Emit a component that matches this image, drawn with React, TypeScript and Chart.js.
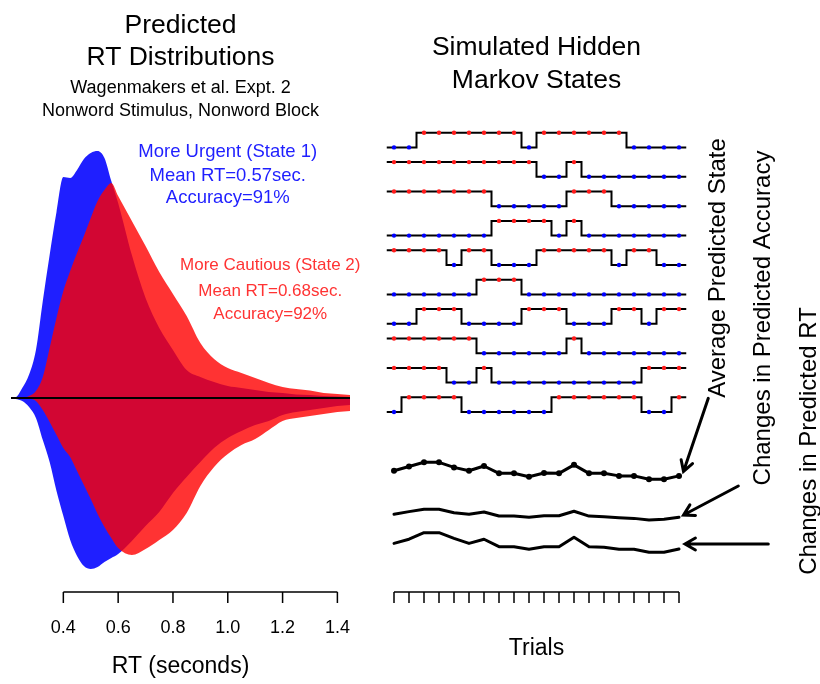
import React, { useEffect, useRef } from "react";
import Chart from "chart.js/auto";

const FONT = "'Liberation Sans', Arial, Helvetica, sans-serif";
const BLUE_FILL = "rgba(0,0,255,0.88)";
const RED_FILL = "rgba(255,0,0,0.8)";
const BLUE_TEXT = "rgb(31,31,255)";
const RED_TEXT = "rgb(255,51,51)";

// ---------------- Left panel: predicted RT densities ----------------
const RT_GRID = [
  0.2, 0.225, 0.25, 0.275, 0.3, 0.325, 0.35, 0.375, 0.4, 0.425, 0.45, 0.475, 0.5, 0.525, 0.55, 0.575, 0.6,
  0.65, 0.7, 0.75, 0.8, 0.85, 0.9, 0.95, 1.0, 1.05, 1.1, 1.15, 1.2, 1.25, 1.3, 1.35, 1.4, 1.45,
];
// upper half (drawn above the zero line)
const UPPER_STATE1 = [
  0, 0.01, 0.2, 0.47, 0.96, 1.94, 2.86, 3.72, 4.42, 4.4, 4.56, 4.78, 4.9, 4.94, 4.8, 4.34, 3.9,
  2.86, 2.0, 1.4, 0.96, 0.56, 0.42, 0.32, 0.24, 0.2, 0.16, 0.12, 0.1, 0.07, 0.06, 0.04, 0.03, 0.02,
];
const UPPER_STATE2 = [
  0, 0, 0, 0.04, 0.14, 0.42, 1.0, 1.6, 2.14, 2.54, 2.9, 3.24, 3.6, 3.94, 4.16, 4.3, 4.04,
  3.54, 3.04, 2.52, 2.08, 1.64, 1.1, 0.78, 0.6, 0.5, 0.4, 0.3, 0.22, 0.18, 0.15, 0.1, 0.08, 0.06,
];
// lower half (mirrored below the zero line)
const LOWER_STATE1 = [
  0, -0.02, -0.06, -0.18, -0.4, -0.84, -1.28, -1.86, -2.36, -2.84, -3.16, -3.36, -3.42, -3.38, -3.28, -3.2, -3.12,
  -2.86, -2.56, -2.28, -1.9, -1.58, -1.28, -1.0, -0.8, -0.66, -0.54, -0.46, -0.34, -0.28, -0.24, -0.2, -0.16, -0.14,
];
const LOWER_STATE2 = [
  0, 0, 0, -0.01, -0.06, -0.24, -0.48, -0.74, -1.0, -1.18, -1.46, -1.74, -2.02, -2.32, -2.58, -2.8, -3.0,
  -3.14, -3.02, -2.84, -2.64, -2.3, -1.76, -1.38, -1.12, -0.94, -0.82, -0.64, -0.46, -0.4, -0.36, -0.32, -0.28, -0.26,
];
const RT_MIN = 0.209;
const RT_MAX = 1.446;
const RT_TICKS = [0.4, 0.6, 0.8, 1.0, 1.2, 1.4];
const RT_TICK_LABELS = ["0.4", "0.6", "0.8", "1.0", "1.2", "1.4"];
const STATE1_LINES = ["More Urgent (State 1)", "Mean RT=0.57sec.", "Accuracy=91%"];
const STATE2_LINES = ["More Cautious (State 2)", "Mean RT=0.68sec.", "Accuracy=92%"];
const STATE1_LABEL_RT = 1.0;
const STATE2_LABEL_RT = 1.155;

// ---------------- Right panel: simulated hidden Markov states ----------------
const TRIALS = [1, 2, 3, 4, 5, 6, 7, 8, 9, 10, 11, 12, 13, 14, 15, 16, 17, 18, 19, 20];
const ROW_STATES = [
  [1, 1, 2, 2, 2, 2, 2, 2, 2, 1, 2, 2, 2, 2, 2, 2, 1, 1, 1, 1],
  [2, 2, 2, 2, 2, 2, 2, 2, 2, 2, 1, 1, 2, 1, 1, 1, 1, 1, 1, 1],
  [2, 2, 2, 2, 2, 2, 2, 1, 1, 1, 1, 1, 2, 2, 2, 1, 1, 1, 1, 1],
  [1, 1, 1, 1, 1, 1, 1, 2, 2, 2, 2, 1, 2, 1, 1, 1, 1, 1, 1, 1],
  [2, 2, 2, 2, 1, 2, 2, 1, 1, 1, 2, 2, 2, 2, 2, 1, 2, 2, 1, 1],
  [1, 1, 1, 1, 1, 1, 2, 2, 2, 1, 1, 1, 1, 1, 1, 1, 1, 1, 1, 1],
  [1, 1, 2, 2, 2, 1, 1, 1, 1, 2, 2, 2, 1, 1, 1, 2, 2, 1, 2, 2],
  [2, 2, 2, 2, 2, 2, 1, 1, 1, 1, 1, 1, 2, 1, 1, 1, 1, 1, 1, 1],
  [2, 2, 2, 2, 1, 1, 2, 1, 1, 1, 1, 1, 1, 1, 1, 1, 1, 2, 2, 2],
  [1, 2, 2, 2, 2, 1, 1, 1, 1, 1, 1, 2, 2, 2, 2, 2, 2, 1, 1, 2],
];
const AVG_STATE = [1.5, 1.65, 1.8, 1.8, 1.62, 1.5, 1.67, 1.41, 1.41, 1.29, 1.42, 1.41, 1.71, 1.41, 1.41, 1.32, 1.32, 1.2, 1.2, 1.32];
const PRED_ACCURACY = [91.52, 91.67, 91.8, 91.8, 91.61, 91.52, 91.65, 91.42, 91.42, 91.35, 91.44, 91.44, 91.69, 91.42, 91.38, 91.33, 91.29, 91.2, 91.24, 91.35];
const PRED_RT = [0.622, 0.636, 0.658, 0.658, 0.639, 0.622, 0.636, 0.611, 0.611, 0.602, 0.611, 0.611, 0.643, 0.611, 0.609, 0.602, 0.602, 0.592, 0.592, 0.603];

// ---------------- layout ----------------
const LEFT_W = 410;
const RIGHT_X = 380;
const RIGHT_W = 440;
const H = 684;
const R_TOP = 120;
const R_BOTTOM = 600;

function axisRange(refValue: number, refPx: number, pxPerUnit: number) {
  return {
    min: refValue - (R_BOTTOM - refPx) / pxPerUnit,
    max: refValue + (refPx - R_TOP) / pxPerUnit,
  };
}

function densitySet(ys: number[], color: string, order: number) {
  return {
    data: RT_GRID.map((x, i) => ({ x, y: ys[i] })),
    fill: "origin",
    backgroundColor: color,
    borderColor: "rgba(0,0,0,0)",
    borderWidth: 0,
    pointRadius: 0,
    cubicInterpolationMode: "monotone",
    order,
  };
}

function drawArrow(ctx: CanvasRenderingContext2D, x1: number, y1: number, x2: number, y2: number) {
  const a = Math.atan2(y2 - y1, x2 - x1);
  const L = 12;
  const w = Math.PI / 6;
  ctx.beginPath();
  ctx.moveTo(x1, y1);
  ctx.lineTo(x2, y2);
  ctx.moveTo(x2 - L * Math.cos(a - w), y2 - L * Math.sin(a - w));
  ctx.lineTo(x2, y2);
  ctx.lineTo(x2 - L * Math.cos(a + w), y2 - L * Math.sin(a + w));
  ctx.stroke();
}

const leftDecor = {
  id: "leftDecor",
  afterDraw(chart: any) {
    const { ctx, chartArea } = chart;
    const x = chart.scales.x;
    const cx = (chartArea.left + chartArea.right) / 2;
    ctx.save();
    ctx.textAlign = "center";
    ctx.textBaseline = "alphabetic";
    ctx.fillStyle = "#000";
    ctx.font = `26.5px ${FONT}`;
    ctx.fillText("Predicted", cx, 33);
    ctx.fillText("RT Distributions", cx, 65);
    ctx.font = `18px ${FONT}`;
    ctx.fillText("Wagenmakers et al. Expt. 2", cx, 93);
    ctx.fillText("Nonword Stimulus, Nonword Block", cx, 116);

    ctx.fillStyle = BLUE_TEXT;
    ctx.font = `18.5px ${FONT}`;
    const bx = x.getPixelForValue(STATE1_LABEL_RT);
    [157, 180.5, 203].forEach((y, i) => ctx.fillText(STATE1_LINES[i], bx, y));
    ctx.fillStyle = RED_TEXT;
    ctx.font = `17px ${FONT}`;
    const rx = x.getPixelForValue(STATE2_LABEL_RT);
    [270, 296, 318.5].forEach((y, i) => ctx.fillText(STATE2_LINES[i], rx, y));

    const axY = 592;
    ctx.strokeStyle = "#000";
    ctx.lineWidth = 1.5;
    ctx.beginPath();
    ctx.moveTo(x.getPixelForValue(RT_TICKS[0]), axY);
    ctx.lineTo(x.getPixelForValue(RT_TICKS[RT_TICKS.length - 1]), axY);
    RT_TICKS.forEach((t) => {
      const px = x.getPixelForValue(t);
      ctx.moveTo(px, axY);
      ctx.lineTo(px, axY + 11);
    });
    ctx.stroke();
    ctx.fillStyle = "#000";
    ctx.font = `18px ${FONT}`;
    RT_TICKS.forEach((t, i) => ctx.fillText(RT_TICK_LABELS[i], x.getPixelForValue(t), 633));
    ctx.font = `23px ${FONT}`;
    ctx.fillText("RT (seconds)", cx, 673);
    ctx.restore();
  },
};

const rightDecor = {
  id: "rightDecor",
  afterDraw(chart: any) {
    const { ctx } = chart;
    const x = chart.scales.x;
    const first = x.getPixelForValue(TRIALS[0]);
    const last = x.getPixelForValue(TRIALS[TRIALS.length - 1]);
    const cx = (first + last) / 2;
    ctx.save();
    ctx.fillStyle = "#000";
    ctx.textAlign = "center";
    ctx.textBaseline = "alphabetic";
    ctx.font = `26.5px ${FONT}`;
    ctx.fillText("Simulated Hidden", cx, 55);
    ctx.fillText("Markov States", cx, 88);

    const axY = 592;
    ctx.strokeStyle = "#000";
    ctx.lineWidth = 1.5;
    ctx.beginPath();
    ctx.moveTo(first, axY);
    ctx.lineTo(last, axY);
    TRIALS.forEach((t) => {
      const px = x.getPixelForValue(t);
      ctx.moveTo(px, axY);
      ctx.lineTo(px, axY + 11);
    });
    ctx.stroke();
    ctx.font = `23px ${FONT}`;
    ctx.fillText("Trials", cx, 655);

    const vlabels: [string, number, number][] = [
      ["Average Predicted State", 725, 268],
      ["Changes in Predicted Accuracy", 770, 318],
      ["Changes in Predicted RT", 816, 441],
    ];
    ctx.font = `24px ${FONT}`;
    vlabels.forEach(([t, px, py]) => {
      ctx.save();
      ctx.translate(px - RIGHT_X, py);
      ctx.rotate(-Math.PI / 2);
      ctx.fillText(t, 0, 0);
      ctx.restore();
    });

    ctx.lineWidth = 3;
    ctx.lineCap = "round";
    drawArrow(ctx, 708.3 - RIGHT_X, 398.3, 683.5 - RIGHT_X, 471.5);
    drawArrow(ctx, 738.3 - RIGHT_X, 486, 683.5 - RIGHT_X, 515);
    drawArrow(ctx, 768.3 - RIGHT_X, 544, 685 - RIGHT_X, 544);
    ctx.restore();
  },
};

export default function App() {
  const leftRef = useRef<HTMLCanvasElement>(null);
  const rightRef = useRef<HTMLCanvasElement>(null);

  useEffect(() => {
    const left = new Chart(leftRef.current as HTMLCanvasElement, {
      type: "line",
      data: {
        datasets: [
          {
            data: [
              { x: RT_MIN, y: 0 },
              { x: RT_MAX, y: 0 },
            ],
            borderColor: "#000",
            borderWidth: 2,
            pointRadius: 0,
            fill: false,
            order: 0,
          } as any,
          densitySet(UPPER_STATE2, RED_FILL, 1) as any,
          densitySet(LOWER_STATE2, RED_FILL, 1) as any,
          densitySet(UPPER_STATE1, BLUE_FILL, 2) as any,
          densitySet(LOWER_STATE1, BLUE_FILL, 2) as any,
        ],
      },
      options: {
        responsive: false,
        animation: false,
        devicePixelRatio: 1,
        layout: { padding: { left: 11, right: LEFT_W - 350, top: 138, bottom: H - 598 } },
        scales: {
          x: { type: "linear", min: RT_MIN, max: RT_MAX, display: false },
          y: { type: "linear", min: -4, max: 5.2, display: false },
        },
        plugins: { legend: { display: false }, tooltip: { enabled: false } },
        events: [],
      },
      plugins: [leftDecor],
    } as any);

    const stateRange = axisRange(0, 412, 29.4);
    const avgRange = axisRange(1.8, 462.3, 28.3);
    const accRange = axisRange(91.8, 509.3, 17.8);
    const rtRange = axisRange(0.658, 532.7, 297);
    const nRows = ROW_STATES.length;
    const rowVal = (r: number, s: number) => nRows - 1 - r + (s === 2 ? 0.5 : 0);

    const rowSets = ROW_STATES.map((states, r) => ({
      data: [
        { x: TRIALS[0] - 0.5, y: rowVal(r, states[0]) },
        ...states.map((s, i) => ({ x: TRIALS[i], y: rowVal(r, s) })),
        { x: TRIALS[TRIALS.length - 1] + 0.5, y: rowVal(r, states[states.length - 1]) },
      ],
      yAxisID: "yStates",
      stepped: "middle",
      borderColor: "#000",
      borderWidth: 2,
      pointRadius: [0, ...states.map(() => 2.2), 0],
      pointBackgroundColor: ["#000", ...states.map((s) => (s === 2 ? "#ff1a1a" : "#0000ff")), "#000"],
      pointBorderWidth: 0,
      pointBorderColor: "rgba(0,0,0,0)",
      fill: false,
    }));

    const lineSet = (ys: number[], axis: string, radius: number) => ({
      data: TRIALS.map((t, i) => ({ x: t, y: ys[i] })),
      yAxisID: axis,
      borderColor: "#000",
      borderWidth: 3,
      borderJoinStyle: "round",
      borderCapStyle: "round",
      pointRadius: radius,
      pointBackgroundColor: "#000",
      pointBorderWidth: 0,
      tension: 0,
      fill: false,
    });

    const right = new Chart(rightRef.current as HTMLCanvasElement, {
      type: "line",
      data: {
        datasets: [
          ...rowSets,
          lineSet(AVG_STATE, "yAvg", 3),
          lineSet(PRED_ACCURACY, "yAcc", 0),
          lineSet(PRED_RT, "yRT", 0),
        ] as any,
      },
      options: {
        responsive: false,
        animation: false,
        devicePixelRatio: 1,
        layout: {
          padding: { left: 386.5 - RIGHT_X, right: RIGHT_W - (686.5 - RIGHT_X), top: R_TOP, bottom: H - R_BOTTOM },
        },
        scales: {
          x: { type: "linear", min: TRIALS[0] - 0.5, max: TRIALS[TRIALS.length - 1] + 0.5, display: false },
          yStates: { type: "linear", position: "left", ...stateRange, display: false },
          yAvg: { type: "linear", position: "left", ...avgRange, display: false },
          yAcc: { type: "linear", position: "left", ...accRange, display: false },
          yRT: { type: "linear", position: "left", ...rtRange, display: false },
        },
        plugins: { legend: { display: false }, tooltip: { enabled: false } },
        events: [],
      },
      plugins: [rightDecor],
    } as any);

    return () => {
      left.destroy();
      right.destroy();
    };
  }, []);

  return (
    <div style={{ position: "absolute", left: 0, top: 0, width: 820, height: H, background: "#fff" }}>
      <canvas ref={leftRef} width={LEFT_W} height={H} style={{ position: "absolute", left: 0, top: 0 }} />
      <canvas ref={rightRef} width={RIGHT_W} height={H} style={{ position: "absolute", left: RIGHT_X, top: 0 }} />
    </div>
  );
}
